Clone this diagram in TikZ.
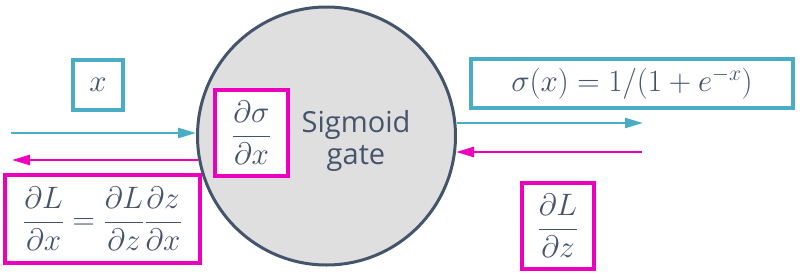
\RequirePackage{fix-cm}
\documentclass[tikz,border=0pt]{standalone}
\usepackage{fontspec}
\newfontfamily\gatefont{Open Sans}
\usetikzlibrary{arrows.meta}
\definecolor{cy}{HTML}{4BACC6}
\definecolor{pk}{HTML}{EC00BE}
\definecolor{ink}{HTML}{44546A}
\definecolor{gfill}{HTML}{DFDFDF}
\begin{document}
\begin{tikzpicture}[x=1pt,y=-1pt,
  mathsize/.style={font=\fontsize{31}{37}\selectfont, text=ink},
  cybox/.style={draw=cy, line width=3.5pt, fill=white, inner sep=0pt, mathsize},
  pkbox/.style={draw=pk, line width=4pt, fill=white, inner sep=0pt, mathsize},
  cyarrow/.style={draw=cy, line width=2.5pt, -{Triangle[length=18pt,width=10pt]}},
  pkarrow/.style={draw=pk, line width=2.5pt, -{Triangle[length=18pt,width=10pt]}},
  gatestyle/.style={circle, draw=ink, line width=3pt, fill=gfill, minimum size=258pt, inner sep=0pt},
  gatetext/.style={font=\gatefont\fontsize{29}{32}\selectfont, text=ink, align=center}
]
\useasboundingbox (0,0) rectangle (806,279);
\node[gatestyle] (gate) at (326.5,136) {};
\node[gatetext] (gatelabel) at (356,141) {Sigmoid\\gate};
\node[pkbox, minimum width=73pt, minimum height=86pt] (dsig) at (251.5,133) {$\displaystyle\frac{\partial\sigma}{\partial x}$};
\node[cybox, minimum width=50pt, minimum height=50pt] (xbox) at (98,85) {$x$};
\node[pkbox, minimum width=195pt, minimum height=88pt] (dLdx) at (102.5,219) {$\displaystyle\frac{\partial L}{\partial x}=\frac{\partial L}{\partial z}\frac{\partial z}{\partial x}$};
\node[cybox, minimum width=322pt, minimum height=49pt] (sigbox) at (632,83.5) {$\sigma(x)=1/(1+e^{-x})$};
\node[pkbox, minimum width=72pt, minimum height=86pt] (dLdz) at (558,226) {$\displaystyle\frac{\partial L}{\partial z}$};
\coordinate (inL) at (11,133);
\coordinate (outL) at (12,160);
\coordinate (outR) at (643,123);
\coordinate (inR) at (642,152);
\draw[cyarrow] (inL) -- (inL -| gate.178.7);
\draw[pkarrow] (outL -| gate.190.6) -- (outL);
\draw[cyarrow] (outR -| gate.5.7) -- (outR);
\draw[pkarrow] (inR) -- (inR -| gate.-7.1);
\end{tikzpicture}
\end{document}
